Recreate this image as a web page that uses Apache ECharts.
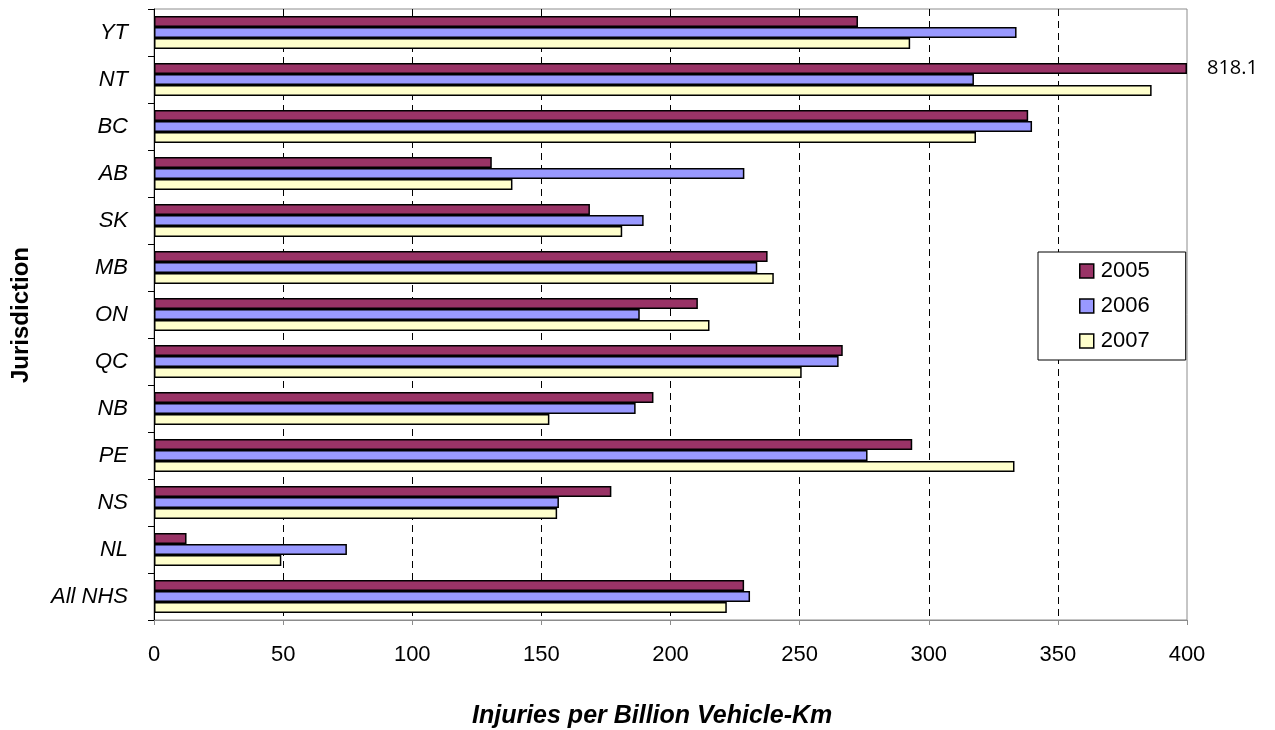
<!DOCTYPE html>
<html>
<head>
<meta charset="utf-8">
<script src="https://cdn.jsdelivr.net/npm/echarts@6/dist/echarts.min.js"></script>
<style>
html,body{margin:0;padding:0;background:#fff;}
#chart{width:1275px;height:730px;}
</style>
</head>
<body>
<div id="chart"></div>
<script>
var categories = ['YT', 'NT', 'BC', 'AB', 'SK', 'MB', 'ON', 'QC', 'NB', 'PE', 'NS', 'NL', 'All NHS'];
var seriesNames = ['2005', '2006', '2007'];
var values2005 = [272.6, 818.1, 338.5, 130.8, 168.8, 237.6, 210.6, 266.7, 193.4, 293.6, 177.1, 12.6, 228.5];
var values2006 = [334.0, 317.5, 340.0, 228.6, 189.6, 233.6, 188.1, 265.1, 186.5, 276.3, 156.8, 74.7, 230.8];
var values2007 = [292.8, 386.3, 318.3, 138.8, 181.3, 240.0, 215.1, 250.8, 153.1, 333.2, 156.1, 49.3, 221.8];
var xTicks = [0, 50, 100, 150, 200, 250, 300, 350, 400];
var xTitle = 'Injuries per Billion Vehicle-Km';
var yTitle = 'Jurisdiction';

var axisMin = xTicks[0];
var axisMax = xTicks[xTicks.length - 1];
var colors = ['#993366', '#9999FF', '#FFFFCC'];
var allValues = [values2005, values2006, values2007];

var chart = echarts.init(document.getElementById('chart'), null, {renderer: 'canvas'});

var series = allValues.map(function (vals, i) {
  return {
    name: seriesNames[i],
    type: 'bar',
    barWidth: 11,
    barGap: '0%',
    itemStyle: {color: colors[i], borderColor: '#000', borderWidth: 1.5},
    data: vals.map(function (v) {
      var item = {value: Math.min(v, axisMax), raw: v};
      if (v > axisMax) {
        item.label = {
          show: true,
          position: 'right',
          distance: 20,
          formatter: String(v),
          fontFamily: 'Open Sans',
          fontSize: 20,
          color: '#000'
        };
      }
      return item;
    })
  };
});

chart.setOption({
  animation: false,
  textStyle: {fontFamily: 'Liberation Sans, Arial, sans-serif'},
  grid: {left: 154, right: 88, top: 9, bottom: 110, show: true, borderColor: '#8c8c8c', borderWidth: 1},
  legend: {
    orient: 'vertical',
    left: 1038,
    top: 252,
    padding: [8, 36, 8, 41],
    itemGap: 13,
    itemWidth: 14,
    itemHeight: 14,
    borderColor: '#000',
    borderWidth: 1,
    backgroundColor: '#fff',
    icon: 'rect',
    itemStyle: {borderColor: '#000', borderWidth: 1.5},
    textStyle: {fontSize: 22, color: '#000', fontFamily: 'Liberation Sans, Arial, sans-serif', padding: [0, 0, 0, 2]},
    data: seriesNames
  },
  xAxis: {
    type: 'value',
    min: axisMin,
    max: axisMax,
    interval: xTicks[1] - xTicks[0],
    axisLine: {show: true, lineStyle: {color: '#8c8c8c', width: 1}},
    axisTick: {show: true, length: 5, lineStyle: {color: '#8c8c8c'}},
    axisLabel: {fontSize: 22, color: '#000', margin: 24, fontFamily: 'Liberation Sans, Arial, sans-serif'},
    splitLine: {show: true, showMinLine: false, showMaxLine: false, lineStyle: {color: '#000', width: 1, type: [7, 5]}}
  },
  yAxis: {
    type: 'category',
    inverse: true,
    data: categories,
    axisLine: {show: true, lineStyle: {color: '#000', width: 1}},
    axisTick: {show: true, length: 6, lineStyle: {color: '#000'}},
    axisLabel: {fontSize: 22, fontStyle: 'italic', color: '#000', margin: 26, fontFamily: 'Liberation Sans, Arial, sans-serif'},
    splitLine: {show: false}
  },
  graphic: [
    {
      type: 'text',
      left: 472,
      top: 704,
      style: {text: xTitle, font: 'italic bold 25px "Liberation Sans", Arial, sans-serif', fill: '#000'}
    },
    {
      type: 'text',
      x: 21,
      y: 315,
      rotation: Math.PI / 2,
      style: {text: yTitle, font: 'bold 24px "Liberation Sans", Arial, sans-serif', fill: '#000', align: 'center', verticalAlign: 'middle'}
    }
  ],
  series: series
});
</script>
</body>
</html>
